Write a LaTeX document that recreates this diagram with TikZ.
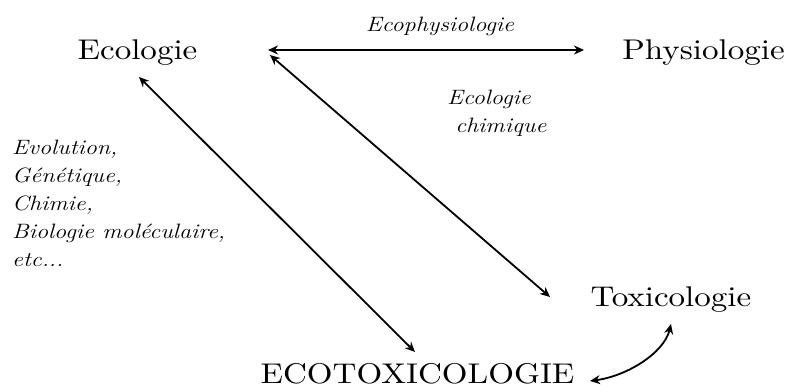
\documentclass[tikz,border=0pt]{standalone}
\usepackage{fontspec}
\usetikzlibrary{arrows.meta}
\newfontfamily\TenRoman{lmroman10-regular.otf}
\newcommand{\WideText}[1]{\scalebox{1.16}[1]{#1}}
\tikzset{
  main/.style={inner sep=0pt, anchor=base, font=\TenRoman\fontsize{28.5}{34}\selectfont},
  lbl/.style={inner sep=0pt, font=\fontsize{20.8}{28}\selectfont\itshape},
  link/.style={line width=1.8pt, {Stealth[length=10pt,width=9pt]}-{Stealth[length=10pt,width=9pt]}}
}
\begin{document}
\begin{tikzpicture}[x=1pt,y=1pt]
\useasboundingbox (0,0) rectangle (790,391);
% main nodes
\node[main] (eco) at (137.5,331) {\WideText{Ecologie}};
\node[main] (phy) at (703.5,331) {\WideText{Physiologie}};
\node[main] (tox) at (671,84) {\WideText{Toxicologie}};
\node[main] (ecotox) at (417.5,7) {\WideText{ECOTOXICOLOGIE}};
% labels
\node[lbl, anchor=base] (lphy) at (440,359) {\WideText{Ecophysiologie}};
\node[lbl, anchor=base west] (lchim) at (447,286) {\WideText{\begin{tabular}[t]{@{}l@{}}Ecologie\\\hspace*{7pt}chimique\end{tabular}}};
\node[lbl, anchor=base west] (lleft) at (12,236) {\WideText{\begin{tabular}[t]{@{}l@{}}Evolution,\\G\'en\'etique,\\Chimie,\\Biologie mol\'eculaire,\\etc...\end{tabular}}};
% arrow endpoints
\coordinate (h1) at (268,341);
\coordinate (h2) at (584,341);
\coordinate (d1) at (270,336);
\coordinate (d2) at (550,94);
\coordinate (g1) at (139,314);
\coordinate (g2) at (415,39);
\coordinate (c1) at (590,10);
\coordinate (c2) at (671,67);
% connectors
\draw[link] (h1) -- (h2);
\draw[link] (d1) -- (d2);
\draw[link] (g1) -- (g2);
\draw[link] (c1) .. controls (627,15) and (664,38) .. (c2);
\end{tikzpicture}
\end{document}
